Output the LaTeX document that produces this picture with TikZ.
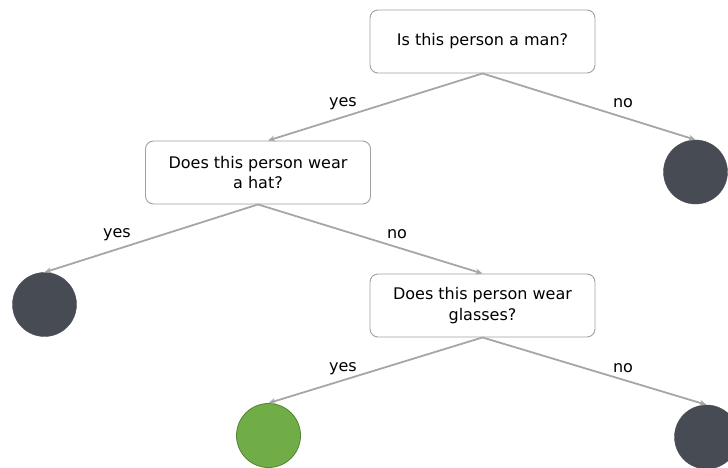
\documentclass[tikz,border=0pt]{standalone}
\usepackage{fontspec}
\setmainfont{DejaVu Sans}
\usetikzlibrary{arrows.meta}
\definecolor{leafgray}{HTML}{474B54}
\definecolor{leafgreen}{HTML}{70AD47}
\definecolor{leafgreenline}{HTML}{548235}
\definecolor{edgegray}{HTML}{A6A6A6}
\definecolor{boxline}{HTML}{A0A0A0}
\tikzset{
  question/.style={draw=boxline, line width=0.9pt, rounded corners=8pt, fill=white,
    minimum width=225pt, minimum height=63pt, align=center,
    font=\fontsize{16pt}{20.5pt}\selectfont, inner sep=0pt},
  leaf/.style={circle, minimum size=64pt, inner sep=0pt, fill=leafgray, draw=leafgray},
  goodleaf/.style={circle, minimum size=64pt, inner sep=0pt, fill=leafgreen, draw=leafgreenline, line width=0.8pt},
  edge/.style={draw=edgegray, line width=1.8pt, -{Stealth[length=7pt,width=6pt]}},
  answer/.style={font=\fontsize{16pt}{19pt}\selectfont, inner sep=0pt}
}
\begin{document}
\begin{tikzpicture}[x=1pt,y=-1pt]
  \useasboundingbox (0,0) rectangle (728,468);
  \clip (0,0) rectangle (728,468);
  % question nodes
  \node[question] (man) at (482.5,41.5) {Is this person a man?};
  \node[question] (hat) at (258,172.5) {Does this person wear\\a hat?};
  \node[question] (glasses) at (482.5,305.5) {Does this person wear\\glasses?};
  % leaves
  \node[leaf] (notman) at (695.5,172) {};
  \node[leaf] (withhat) at (44.5,304.5) {};
  \node[goodleaf] (target) at (268.5,435.5) {};
  \node[leaf] (noglasses) at (706.5,437) {};
  % connectors
  \draw[edge] (man.south) -- ([xshift=10pt]hat.north);
  \draw[edge] (man.south) -- (notman.north);
  \draw[edge] (hat.south) -- (withhat.north);
  \draw[edge] (hat.south) -- (glasses.north);
  \draw[edge] (glasses.south) -- (target.north);
  \draw[edge] (glasses.south) -- (noglasses.north);
  % answer labels
  \node[answer] (l1) at (343,104) {yes};
  \node[answer] (l2) at (623,103) {no};
  \node[answer] (l3) at (117,235) {yes};
  \node[answer] (l4) at (397,234) {no};
  \node[answer] (l5) at (343,369) {yes};
  \node[answer] (l6) at (623,368) {no};
\end{tikzpicture}
\end{document}
